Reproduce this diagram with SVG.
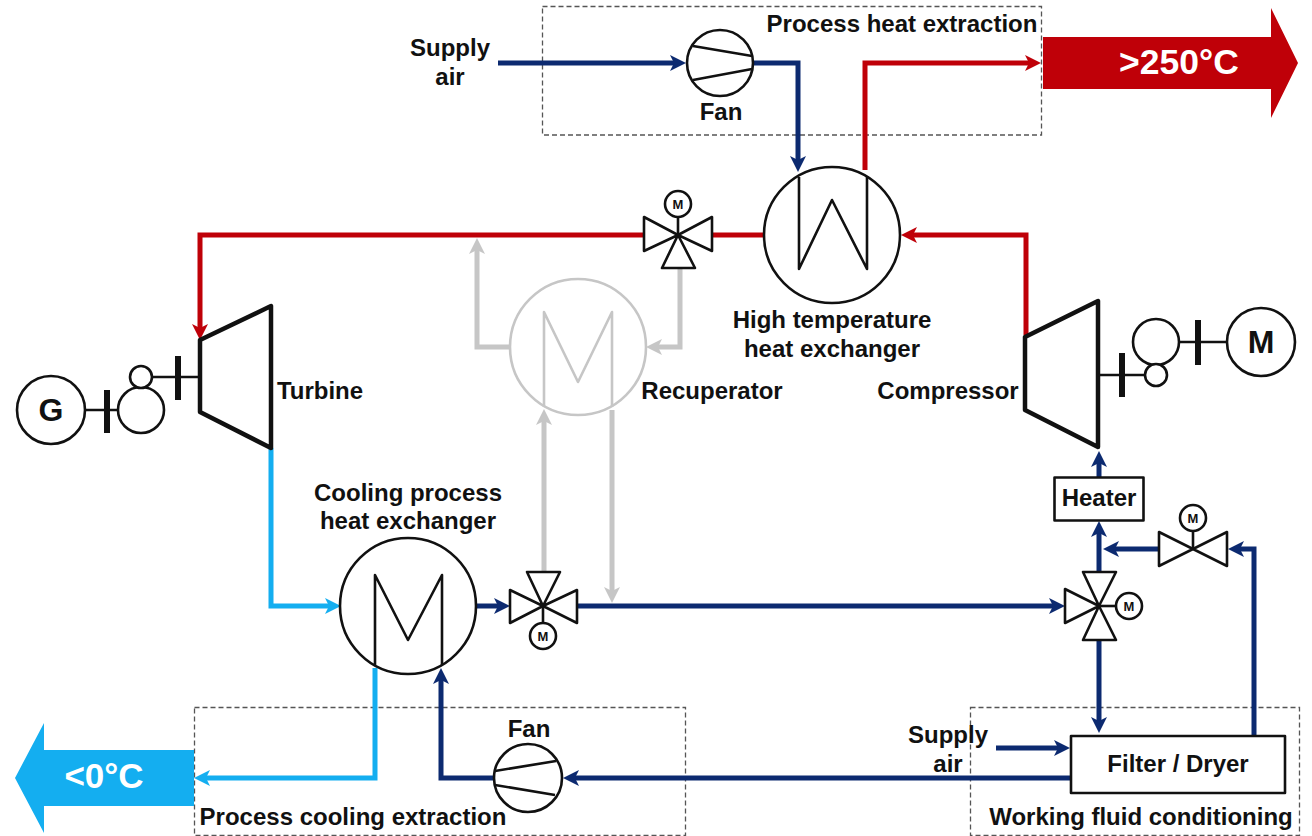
<svg xmlns="http://www.w3.org/2000/svg" width="1312" height="836" viewBox="0 0 1312 836">
<style>
text{font-family:"Liberation Sans",Arial,sans-serif;font-weight:700;font-size:24px;fill:#111;text-anchor:middle}
.s{fill:#fff;stroke:#111;stroke-width:2.600;stroke-linejoin:round}
.n{fill:none;stroke:#111;stroke-width:2.600;stroke-linejoin:round}
.t{fill:none;stroke:#111;stroke-width:4.500;stroke-linejoin:round}
.bar{fill:none;stroke:#111;stroke-width:6}
.box{fill:none;stroke:#555;stroke-width:1.300;stroke-dasharray:5 3}
.c{fill:none;stroke-width:5;stroke-linejoin:miter}
.navy{stroke:#0c2a70}.red{stroke:#bf0008}.sky{stroke:#14aef0}.gray{stroke:#c6c6c6}
.m{font-size:13px}
</style>
<defs>
<marker id="an" markerUnits="userSpaceOnUse" markerWidth="18" markerHeight="18" refX="8" refY="8" orient="auto"><path d="M0,0L16,8L0,16L4,8Z" fill="#0c2a70"/></marker>
<marker id="ar" markerUnits="userSpaceOnUse" markerWidth="18" markerHeight="18" refX="8" refY="8" orient="auto"><path d="M0,0L16,8L0,16L4,8Z" fill="#bf0008"/></marker>
<marker id="as" markerUnits="userSpaceOnUse" markerWidth="18" markerHeight="18" refX="8" refY="8" orient="auto"><path d="M0,0L16,8L0,16L4,8Z" fill="#14aef0"/></marker>
<marker id="ag" markerUnits="userSpaceOnUse" markerWidth="18" markerHeight="18" refX="8" refY="8" orient="auto"><path d="M0,0L16,8L0,16L4,8Z" fill="#c6c6c6"/></marker>
</defs>

<g id="extraction-boxes">
<rect class="box" x="542.500" y="6.500" width="499" height="128.500"/>
<rect class="box" x="194.500" y="707.500" width="491" height="128"/>
<rect class="box" x="970.500" y="707.500" width="329" height="128"/>
</g>

<g id="connectors">
<path class="c gray" d="M510,347H477V246" marker-end="url(#ag)"/>
<path class="c gray" d="M680,268V347H654" marker-end="url(#ag)"/>
<path class="c gray" d="M544,572V417" marker-end="url(#ag)"/>
<path class="c gray" d="M612,410V595" marker-end="url(#ag)"/>
<path class="c navy" d="M498,63H678" marker-end="url(#an)"/>
<path class="c navy" d="M753,63H798V164" marker-end="url(#an)"/>
<path class="c red" d="M865,170V63H1033" marker-end="url(#ar)"/>
<path class="c red" d="M1026,335V235H909" marker-end="url(#ar)"/>
<path class="c red" d="M765,235H712"/>
<path class="c red" d="M644,235H200V332" marker-end="url(#ar)"/>
<path class="c sky" d="M271,448V606H333" marker-end="url(#as)"/>
<path class="c sky" d="M375,668V778H202" marker-end="url(#as)"/>
<path class="c navy" d="M476,606H502" marker-end="url(#an)"/>
<path class="c navy" d="M577,606H1057" marker-end="url(#an)"/>
<path class="c navy" d="M1099,572V529" marker-end="url(#an)"/>
<path class="c navy" d="M1099,477V459" marker-end="url(#an)"/>
<path class="c navy" d="M1159,549H1111" marker-end="url(#an)"/>
<path class="c navy" d="M1254,736V549H1236" marker-end="url(#an)"/>
<path class="c navy" d="M1099,640V725" marker-end="url(#an)"/>
<path class="c navy" d="M1071,778H571" marker-end="url(#an)"/>
<path class="c navy" d="M494,778H441V676" marker-end="url(#an)"/>
<path class="c navy" d="M996,748H1062" marker-end="url(#an)"/>
</g>

<g id="output-hot"><path fill="#bf0008" d="M1043,37H1271V8L1298,63L1271,118V89H1043Z"/><text x="1179" y="74" style="fill:#fff;font-size:35.500px">&gt;250°C</text></g>
<g id="output-cold"><path fill="#14aef0" d="M194,750H44V723L15,778L44,833V806H194Z"/><text x="104" y="788" style="fill:#fff;font-size:35px">&lt;0°C</text></g>

<g id="fan-top"><circle class="s" cx="720" cy="63" r="33"/><path class="n" d="M693,46L752,56M693,80L752,69"/><text x="721" y="120">Fan</text></g>
<g id="fan-bottom"><circle class="s" cx="528" cy="778" r="34"/><path class="n" d="M495,771L556,761M495,785L555,795"/><text x="529" y="737">Fan</text></g>

<g id="ht-exchanger"><circle class="s" cx="832" cy="235" r="68"/><path class="n" d="M799,177V269L832,200L867,269V176"/><text x="832" y="328">High temperature</text><text x="832" y="357">heat exchanger</text></g>
<g id="recuperator"><circle cx="578" cy="347" r="68" fill="#fff" stroke="#c6c6c6" stroke-width="2.600"/><path fill="none" stroke="#c6c6c6" stroke-width="2.600" stroke-linejoin="round" d="M544,407V312L578,382L612,312V407"/><text x="712" y="399">Recuperator</text></g>
<g id="cooling-exchanger"><circle class="s" cx="408" cy="606" r="68"/><path class="n" d="M375,665V575L408,640L442,575V665"/><text x="408" y="501">Cooling process</text><text x="408" y="529">heat exchanger</text></g>

<g id="turbine"><path class="t" d="M200,340L271,306V448L200,412Z" fill="#fff"/><text x="320" y="399">Turbine</text></g>
<g id="generator-train"><path class="n" d="M85,410H118M152,377H200"/><path class="bar" d="M107,390V433M178,356V400"/><circle class="s" cx="141" cy="410" r="23"/><circle class="s" cx="141" cy="377" r="11"/><circle class="s" cx="51" cy="410" r="34"/><text x="51" y="421" style="font-size:32px">G</text></g>

<g id="compressor"><path class="t" d="M1025,337L1098,301V447L1025,410Z" fill="#fff"/><text x="948" y="399">Compressor</text></g>
<g id="motor-train"><path class="n" d="M1098,375H1145M1179,342H1227"/><path class="bar" d="M1122,353V397M1198,320V365"/><circle class="s" cx="1156" cy="342" r="23"/><circle class="s" cx="1156" cy="375" r="11"/><circle class="s" cx="1261" cy="342" r="34"/><text x="1261" y="353" style="font-size:32px">M</text></g>

<g id="valve-top"><path class="s" d="M678,235L644,217V251ZM678,235L712,217V251ZM678,235L662,268H695Z"/><path class="n" d="M678,235V217"/><circle class="s" cx="678" cy="204" r="13"/><text class="m" x="678" y="209">M</text></g>
<g id="valve-cooling"><path class="s" d="M543,606L510,590V623ZM543,606L577,590V623ZM543,606L527,572H560Z"/><path class="n" d="M543,606V623"/><circle class="s" cx="543" cy="636" r="13"/><text class="m" x="543" y="641">M</text></g>
<g id="valve-right"><path class="s" d="M1099,606L1065,589V623ZM1099,606L1083,572H1116ZM1099,606L1083,640H1116Z"/><path class="n" d="M1099,606H1116"/><circle class="s" cx="1129" cy="606" r="13"/><text class="m" x="1129" y="611">M</text></g>
<g id="valve-bypass"><path class="s" d="M1193,549L1159,532V566ZM1193,549L1227,532V566Z"/><path class="n" d="M1193,549V531"/><circle class="s" cx="1193" cy="518" r="13"/><text class="m" x="1193" y="523">M</text></g>

<g id="heater"><rect class="s" x="1054.500" y="477.500" width="89" height="43"/><text x="1099" y="506">Heater</text></g>
<g id="filter-dryer"><rect class="s" x="1071" y="736" width="214" height="57"/><text x="1178" y="772">Filter / Dryer</text></g>

<g id="labels">
<text x="450" y="56">Supply</text><text x="450" y="85">air</text>
<text x="948" y="743">Supply</text><text x="948" y="772">air</text>
<text x="902" y="32">Process heat extraction</text>
<text x="353" y="825">Process cooling extraction</text>
<text x="1141" y="825">Working fluid conditioning</text>
</g>
</svg>
